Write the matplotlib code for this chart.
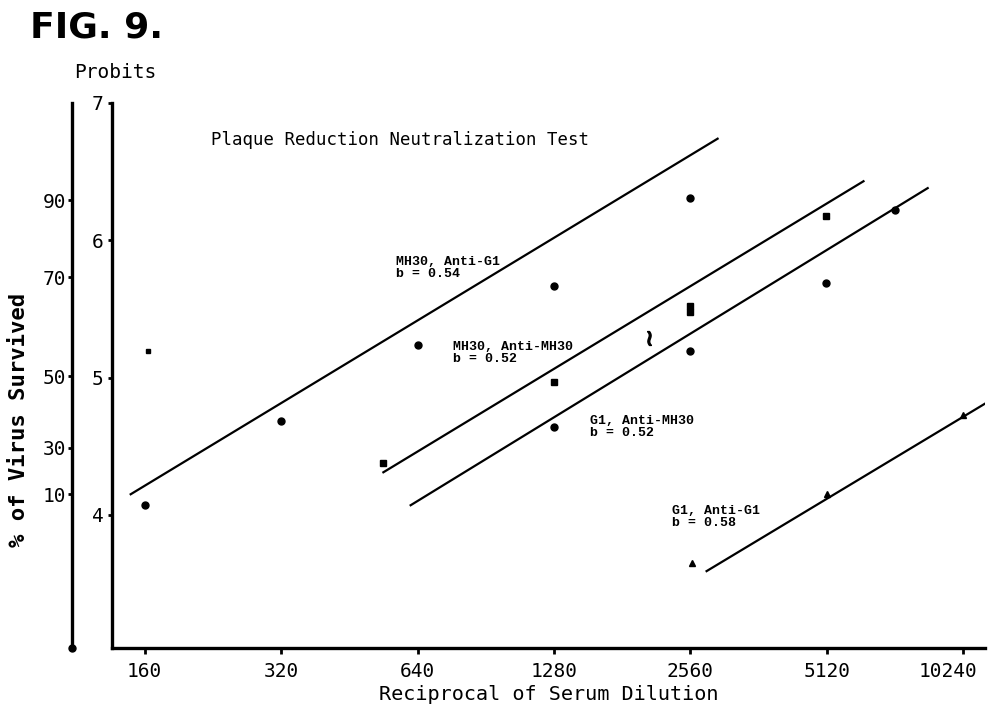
import matplotlib.pyplot as plt
import matplotlib.transforms as mtransforms
import numpy as np

# x values are reciprocal serum dilutions, y values are probits
dilution_ticks = [160, 320, 640, 1280, 2560, 5120, 10240]

# MH30, Anti-G1
s1_x = [160, 320, 640, 1280, 2560]
s1_y = [4.07, 4.68, 5.24, 5.67, 6.31]
s1_fit_x = [149, 2940]
s1_fit_y = [4.15, 6.74]

# MH30, Anti-MH30
s2_x = [163, 537, 1280, 2560, 2560, 5110]
s2_y = [5.19, 4.38, 4.97, 5.48, 5.52, 6.18]
s2_odd_x = [2070]
s2_odd_y = [5.29]
s2_fit_x = [538, 6170]
s2_fit_y = [4.31, 6.43]

# G1, Anti-MH30
s3_x = [1280, 2560, 5110, 7250]
s3_y = [4.64, 5.19, 5.69, 6.22]
s3_fit_x = [618, 8550]
s3_fit_y = [4.07, 6.38]

# G1, Anti-G1
s4_x = [2580, 5130, 10240]
s4_y = [3.65, 4.15, 4.73]
s4_fit_x = [2780, 11440]
s4_fit_y = [3.59, 4.81]

probit_ticks = [4, 5, 6, 7]
pct_labels = ['10', '30', '50', '70', '90']
pct_pos = [4.15, 4.49, 5.01, 5.73, 6.29]

mono = 'DejaVu Sans Mono'
typew = 'Liberation Mono'

fig = plt.figure(figsize=(9.89, 7.07), dpi=100)
W, H = 989, 707
bot = (H - 648) / H
hgt = (648 - 103) / H
ax = fig.add_axes([112 / W, bot, (985 - 112) / W, hgt])

ax.set_xscale('log', base=2)
ax.set_xlim(135.5, 11440)
ax.set_ylim(3.03, 7.0)

lw = 1.6
ax.plot(s1_fit_x, s1_fit_y, color='black', lw=lw)
ax.plot(s2_fit_x, s2_fit_y, color='black', lw=lw)
ax.plot(s3_fit_x, s3_fit_y, color='black', lw=lw)
ax.plot(s4_fit_x, s4_fit_y, color='black', lw=lw)

ax.plot(s1_x, s1_y, 'o', color='black', ms=5)
ax.plot(s2_x[1:], s2_y[1:], 's', color='black', ms=5)
ax.plot(s2_x[:1], s2_y[:1], 's', color='black', ms=2.5)
ax.plot(s2_odd_x, s2_odd_y, marker=r'$\wr$', color='black', ms=10, ls='none')
ax.plot(s3_x, s3_y, 'o', color='black', ms=5)
ax.plot(s4_x, s4_y, '^', color='black', ms=5)

for side in ['top', 'right']:
    ax.spines[side].set_visible(False)
ax.spines['left'].set_linewidth(2.4)
ax.spines['bottom'].set_linewidth(2.4)

ax.set_xticks(dilution_ticks)
ax.set_xticklabels([str(v) for v in dilution_ticks])
ax.xaxis.set_minor_locator(plt.NullLocator())
ax.tick_params(axis='x', direction='out', length=4, width=2, pad=6,
               labelsize=14)
for t in ax.get_xticklabels():
    t.set_family(mono)
# last label sits a little left of its tick, as in the original
last = ax.get_xticklabels()[-1]
last.set_transform(last.get_transform() +
                   mtransforms.ScaledTranslation(-0.15, 0, fig.dpi_scale_trans))

ax.set_yticks(probit_ticks)
ax.set_yticklabels([str(v) for v in probit_ticks])
ax.tick_params(axis='y', direction='out', length=3, width=2, pad=3,
               labelsize=14)
for t in ax.get_yticklabels():
    t.set_family(mono)

ax.set_xlabel('Reciprocal of Serum Dilution', family=mono, fontsize=14.5,
              labelpad=3)

# percent axis on the far left
ax2 = fig.add_axes([72 / W, bot, 0.001, hgt])
ax2.set_ylim(3.03, 7.0)
ax2.set_xticks([])
for side in ['top', 'right', 'bottom']:
    ax2.spines[side].set_visible(False)
ax2.spines['left'].set_linewidth(2.4)
ax2.set_yticks(pct_pos)
ax2.set_yticklabels(pct_labels)
ax2.tick_params(axis='y', direction='out', length=3, width=2, pad=1,
                labelsize=14)
for t in ax2.get_yticklabels():
    t.set_family(mono)
ax2.plot([0], [3.03], 'o', color='black', ms=5, clip_on=False)

fig.text(19 / W, (H - 420) / H, '% of Virus Survived', family=mono,
         fontsize=16, fontweight='bold', rotation=90, ha='center',
         va='center')

# series labels
lab_kw = dict(transform=fig.transFigure, family=typew, fontsize=9.5,
              fontweight='bold', va='top', linespacing=1.0)
fig.text(396 / W, (H - 256) / H, 'MH30, Anti-G1\nb = 0.54', **lab_kw)
fig.text(453 / W, (H - 341) / H, 'MH30, Anti-MH30\nb = 0.52', **lab_kw)
fig.text(590 / W, (H - 415) / H, 'G1, Anti-MH30\nb = 0.52', **lab_kw)
fig.text(672 / W, (H - 505) / H, 'G1, Anti-G1\nb = 0.58', **lab_kw)

fig.text(400 / W, (H - 140) / H, 'Plaque Reduction Neutralization Test',
         family=mono, fontsize=12.5, ha='center', va='center')
fig.text(115 / W, (H - 72) / H, 'Probits', family=mono, fontsize=14,
         ha='center', va='center')
fig.text(30 / W, (H - 28) / H, 'FIG. 9.', fontsize=26, fontweight='bold',
         ha='left', va='center')

fig.savefig('out.png', dpi=100)
